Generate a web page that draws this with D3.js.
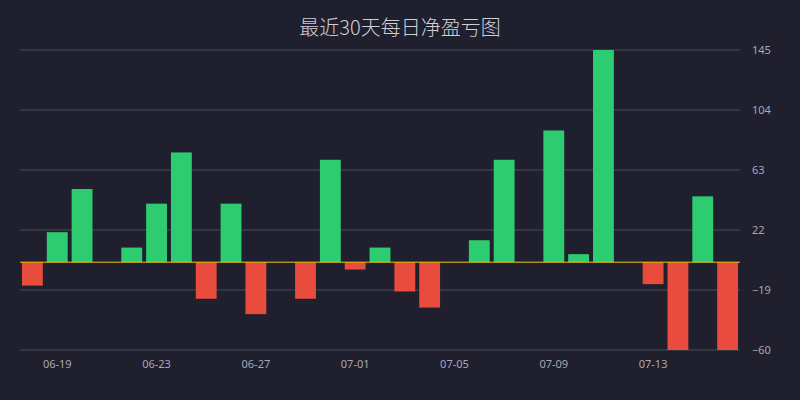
<!DOCTYPE html>
<html><head><meta charset="utf-8">
<script src="https://cdn.jsdelivr.net/npm/d3@7"></script>
<style>body{margin:0;background:#1f1f2e}svg{display:block}</style>
</head><body>
<script>
const dates = ['06-18','06-19','06-20','06-21','06-22','06-23','06-24','06-25','06-26','06-27','06-28','06-29','06-30','07-01','07-02','07-03','07-04','07-05','07-06','07-07','07-08','07-09','07-10','07-11','07-12','07-13','07-14','07-15','07-16'];
const pnl = [-16,20.5,50,0,10,40,75,-25,40,-35.5,0,-25,70,-5,10,-20,-31,0,15,70,0,90,5.5,145,0,-15,-60,45,-60];
const yTicks = [145,104,63,22,-19,-60];
const xTicks = ['06-19','06-23','06-27','07-01','07-05','07-09','07-13'];

const W = 800, H = 400;
const margin = {top: 50, right: 60, bottom: 50, left: 20};
const svg = d3.select('body').append('svg').attr('width', W).attr('height', H);

svg.append('text').attr('x', W / 2).attr('y', 35).attr('text-anchor', 'middle')
  .attr('fill', '#cfcfd6').attr('font-size', 20).attr('font-family', 'Noto Sans CJK SC')
  .attr('font-weight', 300).text('最近30天每日净盈亏图');

const x = d3.scaleBand().domain(dates).range([margin.left, W - margin.right]).paddingInner(0.16).paddingOuter(0.08);
const y = d3.scaleLinear().domain([-60, 145]).range([H - margin.bottom, margin.top]);

const grid = svg.append('g');
grid.selectAll('line').data(yTicks).join('line')
  .attr('x1', margin.left).attr('x2', W - margin.right)
  .attr('y1', d => y(d)).attr('y2', d => y(d))
  .attr('stroke', '#4a4a58').attr('stroke-width', 1);

const yAxis = svg.append('g').attr('transform', `translate(${W - margin.right},0)`)
  .call(d3.axisRight(y).tickValues(yTicks).tickSize(0).tickPadding(12));
yAxis.select('.domain').remove();
yAxis.selectAll('text').attr('fill', '#a8a8b4').attr('font-size', 11).attr('font-family', 'Noto Sans');

svg.append('g').selectAll('rect').data(dates).join('rect')
  .attr('x', d => x(d))
  .attr('width', x.bandwidth())
  .attr('y', (d, i) => y(Math.max(0, pnl[i])))
  .attr('height', (d, i) => Math.abs(y(pnl[i]) - y(0)))
  .attr('fill', (d, i) => pnl[i] >= 0 ? '#2ecc71' : '#e74c3c');

svg.append('line').attr('x1', margin.left).attr('x2', W - margin.right)
  .attr('y1', y(0)).attr('y2', y(0)).attr('stroke', '#f1c40f').attr('stroke-width', 1);

const xAxis = svg.append('g').attr('transform', `translate(0,${H - margin.bottom})`)
  .call(d3.axisBottom(x).tickValues(xTicks).tickSize(0).tickPadding(10));
xAxis.select('.domain').remove();
xAxis.selectAll('text').attr('fill', '#a8a8b4').attr('font-size', 11).attr('font-family', 'Noto Sans');
</script>
</body></html>
